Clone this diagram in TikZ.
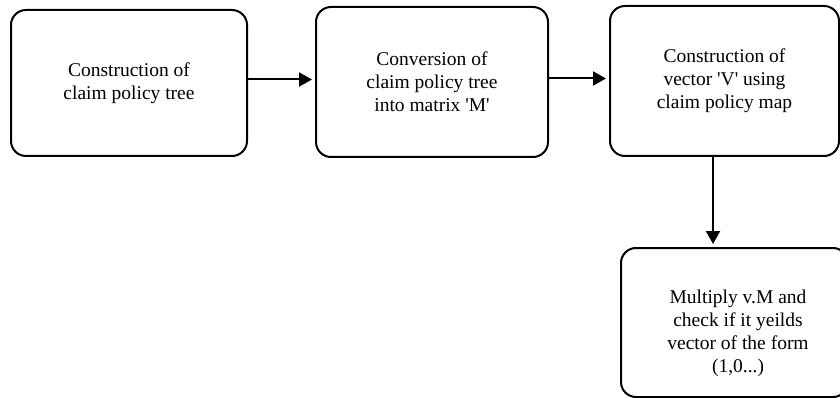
\documentclass[tikz,border=0pt]{standalone}
\usepackage{fontspec}
\setmainfont{Liberation Serif}[Ligatures=TeXOff]
\usetikzlibrary{arrows.meta}
\begin{document}
\begin{tikzpicture}[x=1pt,y=-1pt,
  stepbox/.style={draw, line width=2pt, rounded corners=15pt, align=center,
    font=\fontsize{19.5}{23}\selectfont, inner sep=0pt},
  arr/.style={line width=2pt, shorten >=3pt, -{Triangle[length=13pt,width=14pt]}}]
  \useasboundingbox (0,0) rectangle (840,398);
  \clip (0,0) rectangle (840,398);
  \node[stepbox, minimum width=236pt, minimum height=146pt] (b1) at (129,83)
    {Construction of\\claim policy tree};
  \node[stepbox, minimum width=232pt, minimum height=150pt] (b2) at (432,82)
    {Conversion of\\claim policy tree\\into matrix 'M'};
  \node[stepbox, minimum width=229pt, minimum height=150pt] (b3) at (724.5,81)
    {Construction of\\vector 'V' using\\claim policy map};
  \node[stepbox, minimum width=227pt, minimum height=149pt] (b4) at (734.5,322.5) {};
  \node[align=center, font=\fontsize{19.5}{23}\selectfont] (t4) at (738,333)
    {Multiply v.M and\\check if it yeilds\\vector of the form\\(1,0...)};
  \draw[arr] ([yshift=3.5pt]b1.east) -- ([yshift=3.5pt]b1.east -| b2.west);
  \draw[arr] ([yshift=3.5pt]b2.east) -- ([yshift=3.5pt]b2.east -| b3.west);
  \draw[arr] ([xshift=-11.5pt]b3.south) -- ([xshift=-11.5pt]b3.south |- b4.north);
\end{tikzpicture}
\end{document}
